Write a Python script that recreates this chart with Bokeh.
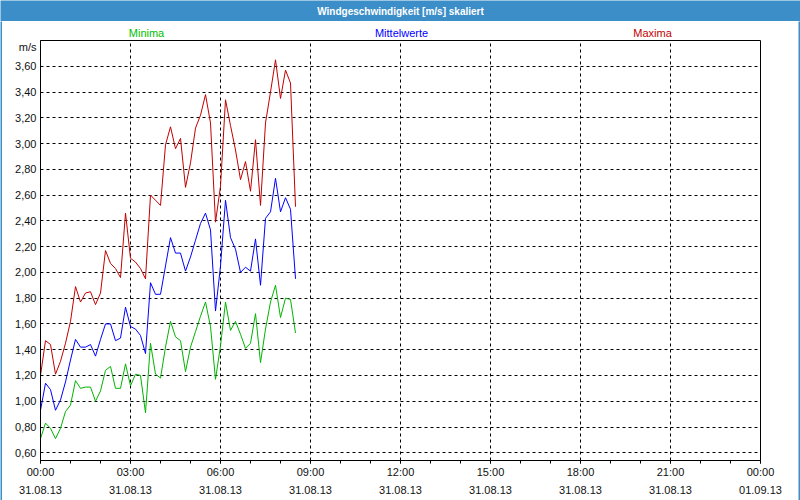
from bokeh.plotting import figure
from bokeh.models import FixedTicker, CustomJSTickFormatter, Label, Range1d
from bokeh.layouts import column, row
from bokeh.embed import file_html
from bokeh.resources import INLINE

# ---------------- data ----------------
time_labels = [
    "00:00", "00:10", "00:20", "00:30", "00:40", "00:50",
    "01:00", "01:10", "01:20", "01:30", "01:40", "01:50",
    "02:00", "02:10", "02:20", "02:30", "02:40", "02:50",
    "03:00", "03:10", "03:20", "03:30", "03:40", "03:50",
    "04:00", "04:10", "04:20", "04:30", "04:40", "04:50",
    "05:00", "05:10", "05:20", "05:30", "05:40", "05:50",
    "06:00", "06:10", "06:20", "06:30", "06:40", "06:50",
    "07:00", "07:10", "07:20", "07:30", "07:40", "07:50",
    "08:00", "08:10", "08:20", "08:30",
]

minima = [
    0.71, 0.83, 0.79, 0.71, 0.79, 0.92, 0.97, 1.16, 1.10, 1.11,
    1.11, 1.00, 1.08, 1.24, 1.27, 1.10, 1.10, 1.29, 1.12, 1.21,
    1.20, 0.91, 1.45, 1.21, 1.18, 1.42, 1.62, 1.50, 1.47, 1.23,
    1.42, 1.54, 1.66, 1.77, 1.58, 1.17, 1.43, 1.77, 1.55, 1.62,
    1.52, 1.41, 1.45, 1.68, 1.30, 1.56, 1.77, 1.90, 1.65, 1.80,
    1.79, 1.53,
]

mittelwerte = [
    0.93, 1.14, 1.09, 0.93, 1.01, 1.15, 1.32, 1.48, 1.42, 1.42,
    1.44, 1.35, 1.48, 1.60, 1.60, 1.47, 1.49, 1.73, 1.58, 1.56,
    1.51, 1.37, 1.92, 1.83, 1.83, 2.05, 2.27, 2.15, 2.15, 2.01,
    2.12, 2.25, 2.38, 2.46, 2.33, 1.70, 2.05, 2.56, 2.27, 2.18,
    2.00, 2.04, 2.01, 2.26, 1.90, 2.42, 2.47, 2.73, 2.47, 2.58,
    2.49, 1.95,
]

maxima = [
    1.20, 1.47, 1.44, 1.21, 1.31, 1.45, 1.62, 1.89, 1.77, 1.84,
    1.85, 1.75, 1.84, 2.17, 2.07, 2.03, 1.96, 2.46, 2.11, 2.08,
    2.03, 1.95, 2.60, 2.56, 2.52, 2.99, 3.13, 2.96, 3.04, 2.66,
    2.85, 3.12, 3.22, 3.38, 3.16, 2.39, 2.67, 3.34, 3.14, 2.95,
    2.72, 2.86, 2.63, 3.03, 2.52, 3.16, 3.40, 3.65, 3.35, 3.57,
    3.47, 2.51,
]

x_ticks = [0, 3, 6, 9, 12, 15, 18, 21, 24]
x_tick_labels = [
    "00:00\n31.08.13", "03:00\n31.08.13", "06:00\n31.08.13",
    "09:00\n31.08.13", "12:00\n31.08.13", "15:00\n31.08.13",
    "18:00\n31.08.13", "21:00\n31.08.13", "00:00\n01.09.13",
]
y_ticks = [0.6, 0.8, 1.0, 1.2, 1.4, 1.6, 1.8, 2.0, 2.2, 2.4, 2.6, 2.8, 3.0, 3.2, 3.4, 3.6]
y_tick_labels = ["0,60", "0,80", "1,00", "1,20", "1,40", "1,60", "1,80", "2,00",
                 "2,20", "2,40", "2,60", "2,80", "3,00", "3,20", "3,40", "3,60"]

title_text = "Windgeschwindigkeit [m/s] skaliert"
series_names = ["Minima", "Mittelwerte", "Maxima"]
unit_text = "m/s"
unit_pos = 3.75

# ---------------- layout ----------------
W, H = 800, 500
EDGE = 2            # blue window border
TITLE_H = 21        # blue title bar
LEGEND_H = 18       # strip with the series names
MAIN_W = W - 2 * EDGE
MAIN_H = H - TITLE_H - LEGEND_H - EDGE
SIDE = 40 - EDGE    # border left/right of the plot frame inside the body
X0, X1 = 0, 24
Y0, Y1 = 0.54, 3.80
FONT = "Liberation Sans"
GREEN, BLUE, RED = "#00b400", "#0000ff", "#c00000"
LBL_GREEN = "#00c000"
FRAME_BLUE = "#3c8ec8"
TEXT = "#101010"


def strip(w, h, color):
    f = figure(width=w, height=h, x_range=Range1d(0, 1), y_range=Range1d(0, 1),
               x_axis_type=None, y_axis_type=None, toolbar_location=None,
               output_backend="svg", min_border=0,
               background_fill_color=color, border_fill_color=color)
    f.outline_line_color = None
    f.grid.visible = False
    return f


# title bar
title_fig = figure(width=W, height=TITLE_H, x_range=Range1d(0, W), y_range=Range1d(TITLE_H, 0),
                   x_axis_type=None, y_axis_type=None, toolbar_location=None,
                   output_backend="svg", min_border=0,
                   background_fill_color=FRAME_BLUE, border_fill_color=FRAME_BLUE)
title_fig.outline_line_color = None
title_fig.grid.visible = False
title_fig.add_layout(Label(x=W / 2, y=10.5, text=title_text, text_color="white",
                           text_font=FONT, text_font_size="10px", text_font_style="bold",
                           text_align="center", text_baseline="middle"))

# legend strip (frame aligned with the main frame: page x 40..760)
leg_fig = figure(width=MAIN_W, height=LEGEND_H,
                 x_range=Range1d(40, W - 40), y_range=Range1d(TITLE_H + LEGEND_H, TITLE_H),
                 x_axis_type=None, y_axis_type=None, toolbar_location=None,
                 output_backend="svg", min_border=0,
                 min_border_left=SIDE, min_border_right=SIDE,
                 background_fill_color="white", border_fill_color="white")
leg_fig.outline_line_color = None
leg_fig.grid.visible = False
for name, col, px in zip(series_names, [LBL_GREEN, BLUE, RED], [146, 401, 652]):
    leg_fig.add_layout(Label(x=px, y=32, text=name, text_color=col,
                             text_font=FONT, text_font_size="11px",
                             text_align="center", text_baseline="middle"))

# main chart
hours = [int(t[:2]) + int(t[3:]) / 60.0 for t in time_labels]

p = figure(width=MAIN_W, height=MAIN_H, x_range=Range1d(X0, X1), y_range=Range1d(Y0, Y1),
           output_backend="svg", toolbar_location=None,
           min_border_left=SIDE, min_border_right=SIDE,
           min_border_top=1, min_border_bottom=MAIN_H - 1 - 420,
           background_fill_color="white", border_fill_color="white")
p.outline_line_color = "black"
p.outline_line_alpha = 1.0
p.outline_line_width = 1

LOOKUP = """
let best = 0;
for (let i = 0; i < tv.length; i++) {
  if (Math.abs(tv[i] - tick) < Math.abs(tv[best] - tick)) best = i;
}
return tl[best];
"""

p.xaxis.ticker = FixedTicker(ticks=x_ticks, minor_ticks=list(range(0, 25)))
p.xaxis.formatter = CustomJSTickFormatter(args=dict(tv=x_ticks, tl=x_tick_labels), code=LOOKUP)
p.xaxis.major_tick_in = 0
p.xaxis.major_tick_out = 3
p.xaxis.minor_tick_in = 0
p.xaxis.minor_tick_out = 3
p.xaxis.major_tick_line_color = "black"
p.xaxis.minor_tick_line_color = "black"
p.xaxis.major_label_standoff = 2
p.xaxis.major_label_text_font = FONT
p.xaxis.major_label_text_font_size = "11px"
p.xaxis.major_label_text_color = TEXT
p.xaxis.major_label_text_line_height = 1.5
p.xaxis.axis_line_color = "black"

y_axis_ticks = y_ticks + [unit_pos]
y_axis_labels = y_tick_labels + [unit_text]
p.yaxis.ticker = FixedTicker(ticks=y_axis_ticks)
p.yaxis.formatter = CustomJSTickFormatter(args=dict(tv=y_axis_ticks, tl=y_axis_labels), code=LOOKUP)
p.yaxis.major_tick_in = 0
p.yaxis.major_tick_out = 0
p.yaxis.minor_tick_line_color = None
p.yaxis.major_tick_line_color = None
p.yaxis.major_label_standoff = 4
p.yaxis.major_label_text_font = FONT
p.yaxis.major_label_text_font_size = "11px"
p.yaxis.major_label_text_color = TEXT
p.yaxis.axis_line_color = "black"

p.xgrid.ticker = FixedTicker(ticks=x_ticks[1:-1])
p.ygrid.ticker = FixedTicker(ticks=y_ticks)
for g in (p.xgrid, p.ygrid):
    g.grid_line_color = "black"
    g.grid_line_alpha = 1.0
    g.grid_line_width = 1
    g.grid_line_dash = "3 3"

p.line(hours, minima, line_color=GREEN, line_width=1)
p.line(hours, mittelwerte, line_color=BLUE, line_width=1)
p.line(hours, maxima, line_color=RED, line_width=1)

# assemble the window
inner = column(leg_fig, p, strip(MAIN_W, EDGE, FRAME_BLUE), spacing=0)
body = row(strip(EDGE, H - TITLE_H, FRAME_BLUE), inner, strip(EDGE, H - TITLE_H, FRAME_BLUE), spacing=0)
layout = column(title_fig, body, spacing=0)

open("out.html", "w").write(file_html(layout, INLINE))
